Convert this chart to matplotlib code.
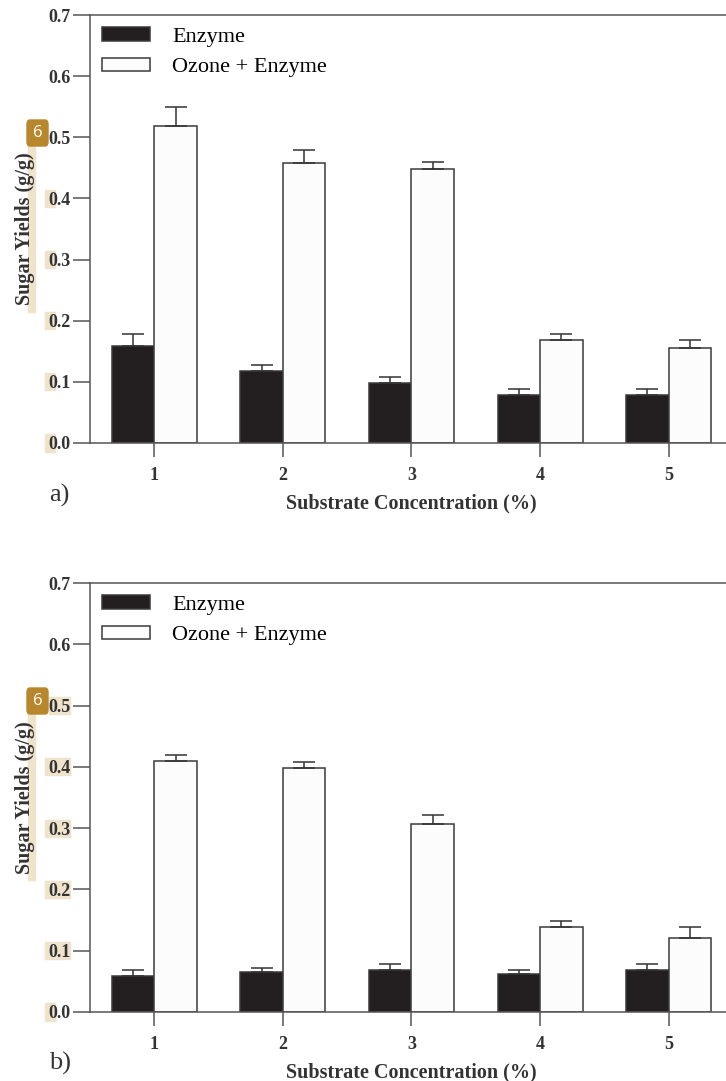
import numpy as np
import matplotlib.pyplot as plt
from matplotlib.patches import Rectangle, FancyBboxPatch
from matplotlib.transforms import blended_transform_factory

plt.rcParams['font.family'] = ['Liberation Serif', 'DejaVu Serif']

# data
concentrations = [1, 2, 3, 4, 5]
series_names = ["Enzyme", "Ozone + Enzyme"]

enzyme_a = [0.158, 0.118, 0.098, 0.078, 0.078]
enzyme_a_err = [0.020, 0.010, 0.010, 0.010, 0.010]
ozone_a = [0.519, 0.458, 0.448, 0.168, 0.155]
ozone_a_err = [0.030, 0.021, 0.012, 0.010, 0.013]

enzyme_b = [0.058, 0.065, 0.069, 0.062, 0.069]
enzyme_b_err = [0.011, 0.006, 0.010, 0.007, 0.010]
ozone_b = [0.409, 0.398, 0.306, 0.138, 0.121]
ozone_b_err = [0.010, 0.010, 0.015, 0.010, 0.017]

W, H = 726, 1081
fig = plt.figure(figsize=(W / 100, H / 100), dpi=100)

def fx(px):
    return px / W

def fy(py):
    return 1 - py / H

edge = '#3a3a3a'
spine_col = '#555555'
hl_col = '#efe3cc'
badge_col = '#b8862b'

def panel(top_px, bot_px, enz, enz_err, ozo, ozo_err, tag, full_hl):
    ax = fig.add_axes([fx(90), fy(bot_px), fx(643), (bot_px - top_px) / H])
    ax.set_facecolor('none')
    x = np.array(concentrations, dtype=float)
    w = 0.33
    b1 = ax.bar(x - w / 2, enz, w, color='#231f20', edgecolor=edge, lw=1.1, label=series_names[0])
    b2 = ax.bar(x + w / 2, ozo, w, color='#fcfcfc', edgecolor=edge, lw=1.1, label=series_names[1])
    ax.errorbar(x - w / 2, enz, yerr=[np.zeros(5), enz_err], fmt='none', ecolor='#333333',
                elinewidth=1.1, capsize=8, capthick=1.1)
    ax.errorbar(x + w / 2, ozo, yerr=[np.zeros(5), ozo_err], fmt='none', ecolor='#333333',
                elinewidth=1.1, capsize=8, capthick=1.1)

    ax.set_xlim(0.5, 5.5)
    ax.set_ylim(0, 0.7)
    ax.set_xticks(concentrations)
    ax.set_yticks(np.arange(0, 0.71, 0.1))
    ax.set_yticklabels([f"{v:.1f}" for v in np.arange(0, 0.71, 0.1)])
    ax.tick_params(axis='y', direction='out', length=12, width=1.1, color=spine_col,
                   labelsize=13, pad=2)
    ax.tick_params(axis='x', direction='out', length=10, width=1.1, color=spine_col,
                   labelsize=13, pad=7)
    for lab in ax.get_xticklabels() + ax.get_yticklabels():
        lab.set_fontweight('bold')
        lab.set_color('#333333')
    for s in ax.spines.values():
        s.set_color(spine_col)
        s.set_linewidth(1.1)

    ax.set_ylabel("Sugar Yields (g/g)", fontsize=14.5, fontweight='bold', color='#333333')
    ax.yaxis.set_label_coords(-0.086, 0.5)
    ax.set_xlabel("Substrate Concentration (%)", fontsize=14.5, fontweight='bold', color='#333333')
    ax.xaxis.set_label_coords(0.5, -0.117)

    ax.legend(handles=[b1, b2], loc='upper left', bbox_to_anchor=(0.0, 1.0), frameon=False,
              fontsize=16, handlelength=2.15, handleheight=0.55, handletextpad=1.0,
              labelspacing=0.5, borderaxespad=0.25, borderpad=0.3)

    fig.text(fx(49), fy((top_px + bot_px) / 2 + 266), tag, fontsize=19, ha='left', va='center',
             color='#333333')

    # reader highlights behind the axis texts
    tr = blended_transform_factory(fig.transFigure, ax.transData)
    fig.add_artist(Rectangle((fx(28), fy(top_px + 297)), fx(7), (297 - 130) / H,
                             transform=fig.transFigure, color=hl_col, zorder=-1))
    for v in [0.0, 0.1, 0.2, 0.3, 0.4, 0.5]:
        if v == 0.5 and not full_hl:
            continue
        right = 70 if (full_hl and v > 0.05) else 55
        left = 49 if v == 0.5 else 45
        fig.add_artist(Rectangle((fx(left), v - 0.014), fx(right - left), 0.028,
                                 transform=tr, color=hl_col, zorder=-1))
    # note badge
    fig.add_artist(FancyBboxPatch((fx(27), fy(top_px + 131)), fx(21), 26 / H,
                                  boxstyle='round,pad=0.0,rounding_size=0.004',
                                  transform=fig.transFigure, color=badge_col, zorder=10))
    fig.text(fx(37.5), fy(top_px + 118), "6", family=['Open Sans', 'DejaVu Sans'],
             fontsize=12, color='white', ha='center', va='center', zorder=11)
    return ax

panel(15, 443, enzyme_a, enzyme_a_err, ozone_a, ozone_a_err, "a)", False)
panel(583, 1012, enzyme_b, enzyme_b_err, ozone_b, ozone_b_err, "b)", True)

fig.savefig("out.png", dpi=100)
